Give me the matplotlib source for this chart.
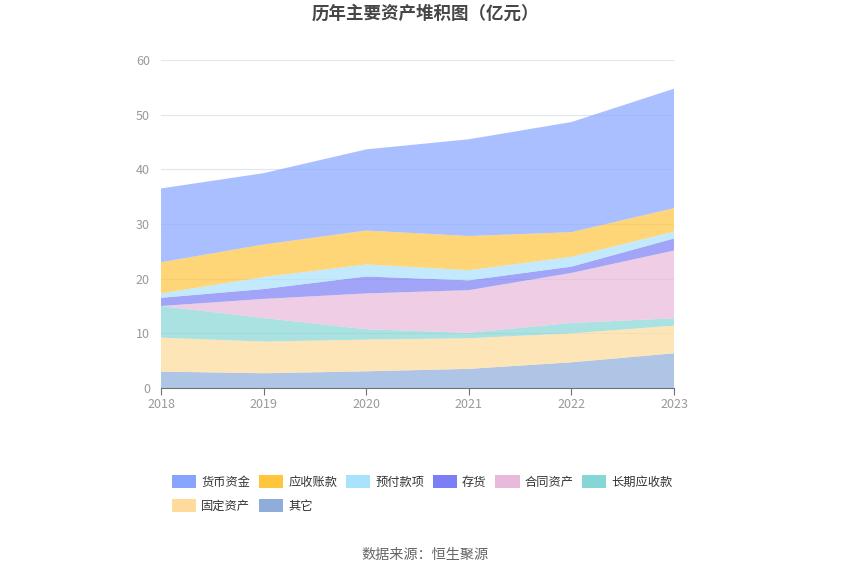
import matplotlib
matplotlib.use("Agg")
import matplotlib.pyplot as plt
from matplotlib.patches import Patch

plt.rcParams['font.family'] = ['Noto Sans CJK SC', 'DejaVu Sans']

years = [2018, 2019, 2020, 2021, 2022, 2023]
series_names = ['其它', '固定资产', '长期应收款', '合同资产', '存货', '预付款项', '应收账款', '货币资金']
qita = [3.0, 2.7, 3.05, 3.5, 4.7, 6.35]
guding = [6.2, 5.8, 5.8, 5.6, 5.3, 5.05]
changqi = [5.8, 4.3, 1.9, 1.0, 1.9, 1.35]
hetong = [0.0, 3.5, 6.55, 7.8, 9.15, 12.4]
cunhuo = [1.5, 1.8, 3.1, 1.8, 1.15, 2.2]
yufu = [0.8, 2.2, 2.2, 1.85, 1.8, 1.25]
yingshou = [5.7, 5.95, 6.2, 6.25, 4.5, 4.3]
huobi = [13.5, 13.05, 14.85, 17.7, 20.15, 21.85]

colors = {
    '货币资金': '#87a5ff',
    '应收账款': '#ffc53d',
    '预付款项': '#a8e2fc',
    '存货': '#7b7ef5',
    '合同资产': '#e8b9da',
    '长期应收款': '#86d6d6',
    '固定资产': '#fedb9b',
    '其它': '#8eadda',
}
data = [qita, guding, changqi, hetong, cunhuo, yufu, yingshou, huobi]

fig = plt.figure(figsize=(8.5, 5.75), dpi=100)
ax = fig.add_axes([161/850, 1-388/575, 513/850, 328/575])

ax.stackplot(years, *data, colors=[colors[n] for n in series_names], alpha=0.7, linewidth=0)

ax.set_xlim(2018, 2023)
ax.set_ylim(0, 60)
ax.set_yticks(range(0, 61, 10))
ax.set_xticks(years)
ax.grid(axis='y', color='#e0e6f1', linewidth=0.8)
ax.set_axisbelow(True)
for s in ['top', 'right', 'left']:
    ax.spines[s].set_visible(False)
ax.spines['bottom'].set_color('#6e7079')
ax.tick_params(axis='y', length=0, colors='#999999', labelsize=9, pad=8)
ax.tick_params(axis='x', length=5, color='#6e7079', labelcolor='#999999', labelsize=9, pad=2)

fig.text(0.5, 1-14/575, '历年主要资产堆积图（亿元）', ha='center', va='center',
         fontsize=12.6, fontweight='bold', color='#464646')

order1 = ['货币资金', '应收账款', '预付款项', '存货', '合同资产', '长期应收款']
order2 = ['固定资产', '其它']
h1 = [Patch(facecolor=colors[n], edgecolor='none', label=n) for n in order1]
h2 = [Patch(facecolor=colors[n], edgecolor='none', label=n) for n in order2]
kw = dict(frameon=False, fontsize=8.8, handlelength=2.0, handleheight=1.2,
          handletextpad=0.4, columnspacing=0.7, borderaxespad=0, borderpad=0,
          labelcolor='#333333', loc='center left')
leg1 = fig.legend(handles=h1, ncol=6, bbox_to_anchor=(172/850, 1-482/575), **kw)
leg2 = fig.legend(handles=h2, ncol=2, bbox_to_anchor=(172/850, 1-506/575), **kw)

fig.text(0.5, 1-555/575, '数据来源：恒生聚源', ha='center', va='center',
         fontsize=10.2, color='#666666')

fig.savefig('out.png', dpi=100)
